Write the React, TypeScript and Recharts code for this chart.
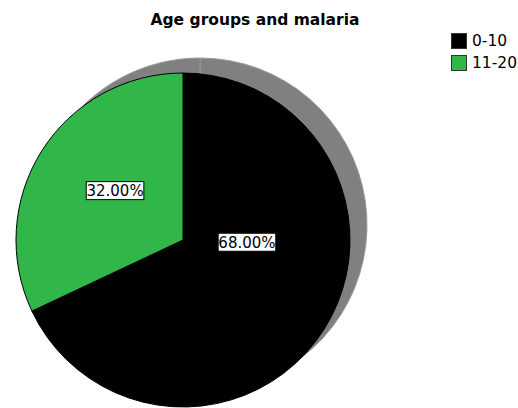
import { PieChart, Pie, Cell, Legend } from "recharts";

const ageGroups = ["0-10", "11-20"];
const shares = [68, 32];
const sliceColors = ["#000000", "#31b64a"];

const chartData = ageGroups.map((g, i) => ({ name: g, value: shares[i] }));

// where SPSS dropped the percentage boxes (degrees, px from centre)
const labelSpots = [
    { angle: -2, r: 64 },
    { angle: 144, r: 84 },
];

const FONT = "'DejaVu Sans', sans-serif";
const RAD = Math.PI / 180;

function PercentLabel(props: any) {
    const { cx, cy, index, percent } = props;
    const spot = labelSpots[index];
    const x = cx + spot.r * Math.cos(spot.angle * RAD);
    const y = cy - spot.r * Math.sin(spot.angle * RAD);
    const txt = `${(percent * 100).toFixed(2)}%`;
    const w = txt.length * 9.6;
    return (
        <g>
            <rect x={x - w / 2} y={y - 9} width={w} height={18} fill="#fff" stroke="#000" strokeWidth={1} />
            <text x={x} y={y + 5.5} textAnchor="middle" fontSize={15} fontFamily={FONT} fill="#000">
                {txt}
            </text>
        </g>
    );
}

function LegendBox() {
    return (
        <div style={{ fontFamily: FONT, fontSize: 15.5, lineHeight: "22px" }}>
            {chartData.map((d, i) => (
                <div key={d.name} style={{ display: "flex", alignItems: "center", height: 22 }}>
                    <span
                        style={{
                            display: "inline-block", width: 16, height: 16, boxSizing: "border-box",
                            background: sliceColors[i], border: "1px solid #333", marginRight: 5,
                        }}
                    />
                    <span>{d.name}</span>
                </div>
            ))}
        </div>
    );
}

export default function App() {
    return (
        <div style={{ position: "absolute", left: 0, top: 0, width: 518, height: 408, background: "#fff" }}>
            <div
                style={{
                    position: "absolute", left: 0, top: 13, width: 510, textAlign: "center",
                    fontFamily: FONT, fontWeight: "bold", fontSize: 15.5, lineHeight: 1,
                }}
            >
                Age groups and malaria
            </div>
            <PieChart width={518} height={408} margin={{ top: 0, right: 0, bottom: 0, left: 0 }}>
                {/* drop shadow */}
                <Pie
                    data={chartData}
                    dataKey="value"
                    cx={200}
                    cy={225}
                    outerRadius={167}
                    startAngle={90}
                    endAngle={-270}
                    stroke="#999"
                    strokeWidth={1}
                    legendType="none"
                    isAnimationActive={false}
                >
                    {chartData.map((d) => <Cell key={d.name} fill="#808080" />)}
                </Pie>
                <Pie
                    data={chartData}
                    dataKey="value"
                    cx={183}
                    cy={240}
                    outerRadius={167}
                    startAngle={90}
                    endAngle={-270}
                    stroke="#000"
                    strokeWidth={1}
                    label={PercentLabel}
                    labelLine={false}
                    isAnimationActive={false}
                >
                    {chartData.map((d, i) => <Cell key={d.name} fill={sliceColors[i]} />)}
                </Pie>
                <Legend
                    content={LegendBox}
                    wrapperStyle={{ position: "absolute", left: 451, top: 30, width: 67 }}
                />
            </PieChart>
        </div>
    );
}
